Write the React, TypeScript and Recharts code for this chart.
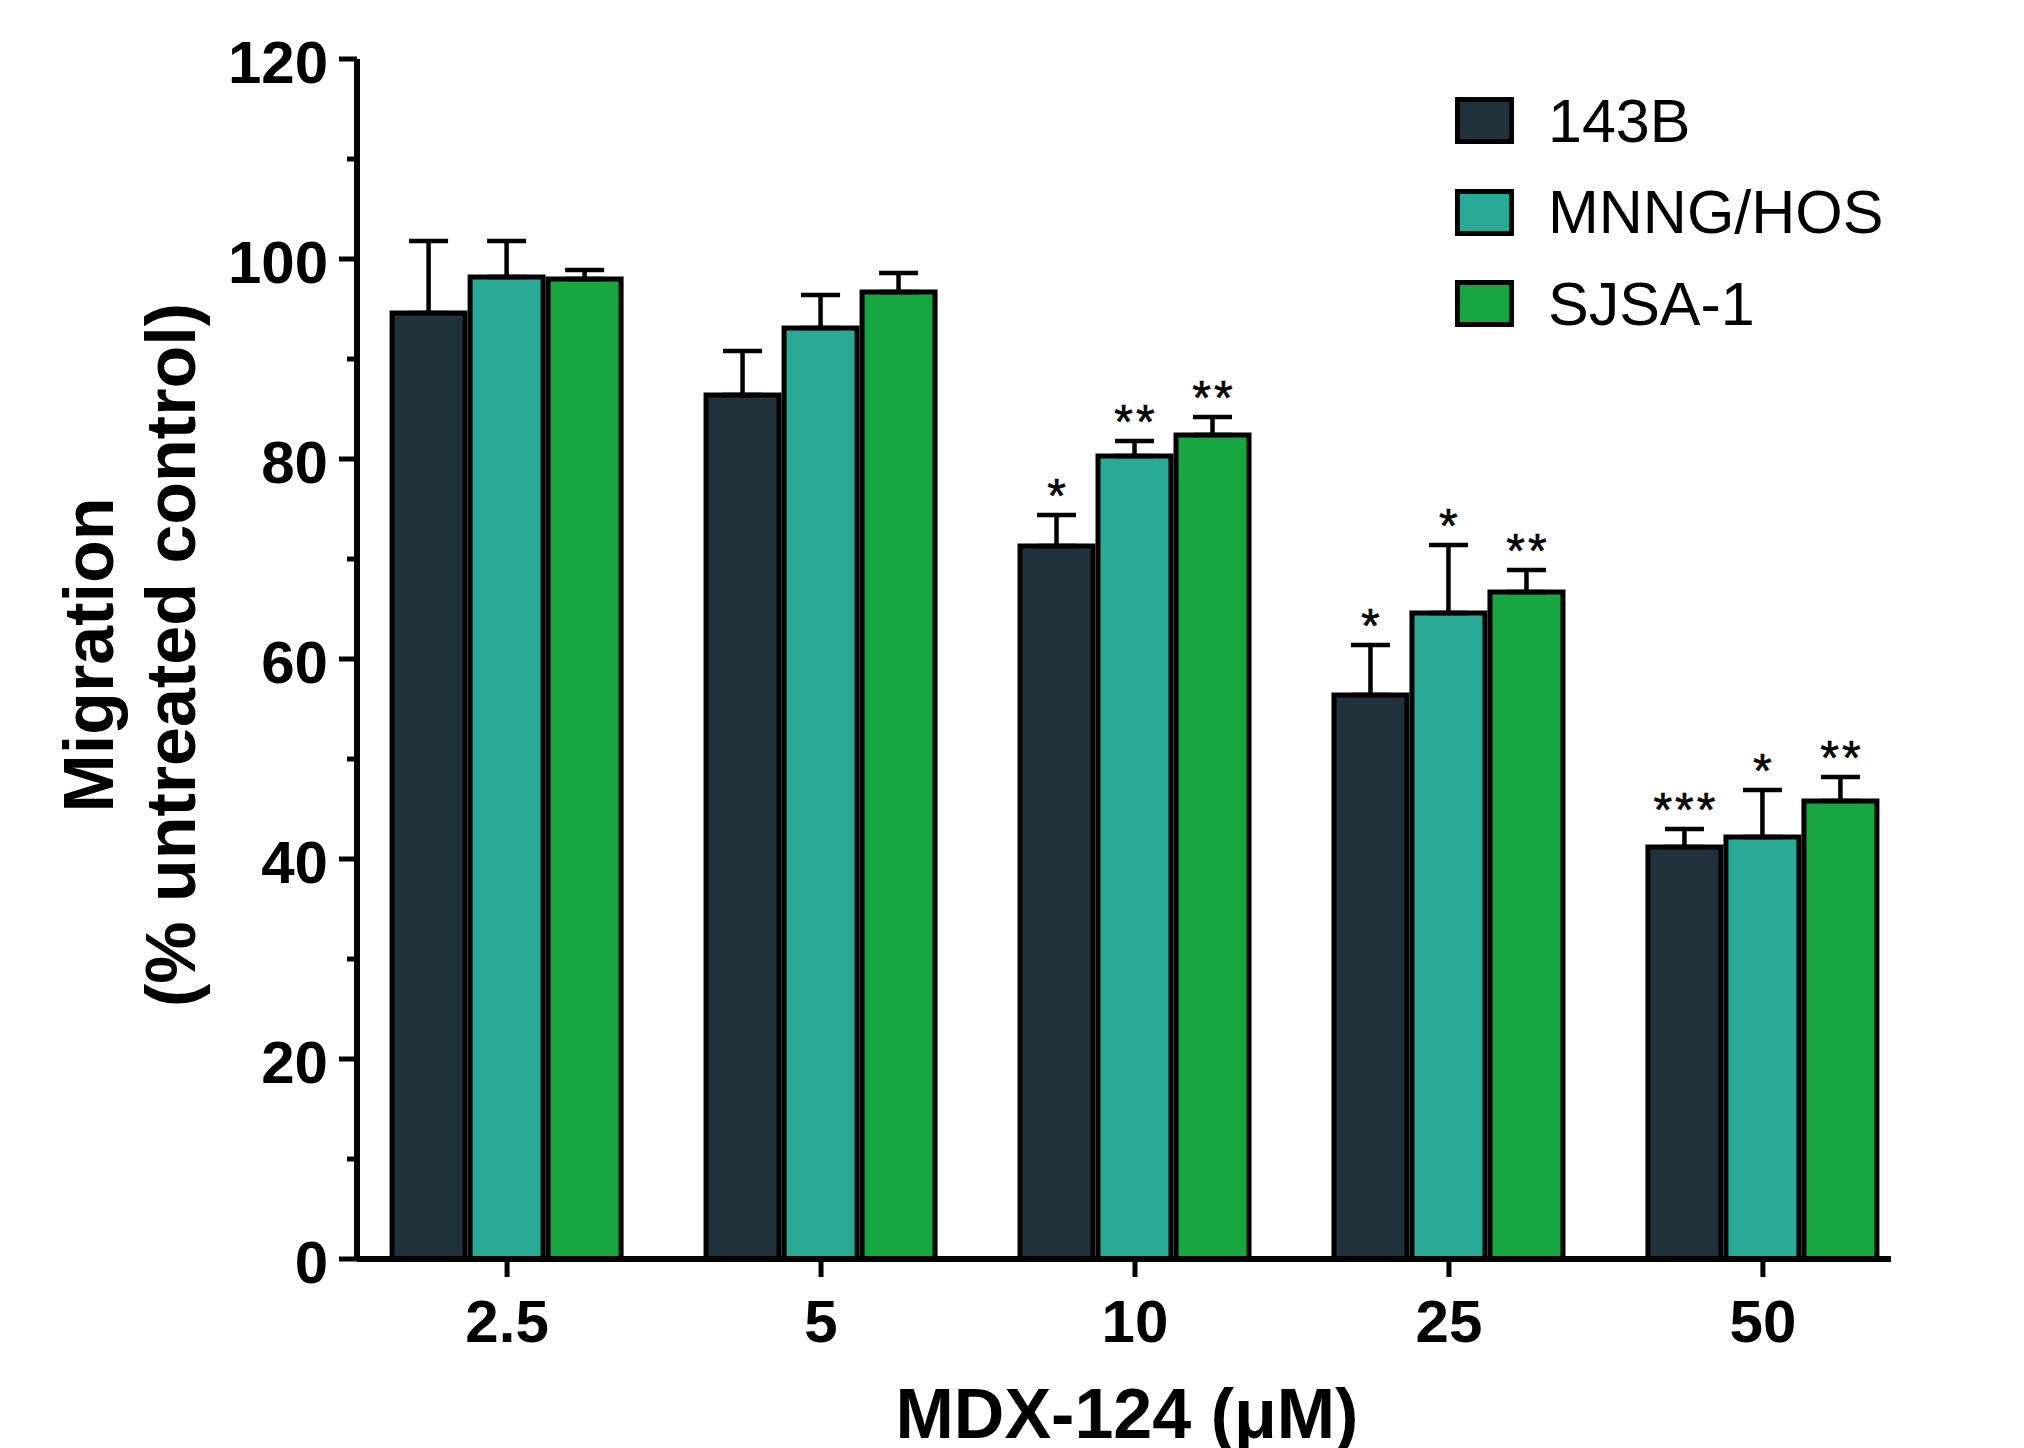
import React from 'react';
import { BarChart, Bar, XAxis, YAxis, ErrorBar, LabelList, Legend } from 'recharts';

const doses = ['2.5', '5', '10', '25', '50'];

const mean143B = [94.6, 86.4, 71.3, 56.4, 41.2];
const sem143B = [7.2, 4.4, 3.1, 5.0, 1.8];
const sig143B = ['', '', '*', '*', '***'];

const meanMNNG = [98.2, 93.1, 80.3, 64.6, 42.2];
const semMNNG = [3.6, 3.3, 1.5, 6.8, 4.7];
const sigMNNG = ['', '', '**', '*', '*'];

const meanSJSA = [98.0, 96.7, 82.4, 66.7, 45.8];
const semSJSA = [0.9, 1.9, 1.8, 2.2, 2.4];
const sigSJSA = ['', '', '**', '**', '**'];

const yTicks = [0, 10, 20, 30, 40, 50, 60, 70, 80, 90, 100, 110, 120];

const FONT = '"Liberation Sans", Arial, sans-serif';

const series = [
  { key: 'b143', name: '143B', color: '#22323C', mean: mean143B, sem: sem143B, sig: sig143B },
  { key: 'mnng', name: 'MNNG/HOS', color: '#2BA997', mean: meanMNNG, sem: semMNNG, sig: sigMNNG },
  { key: 'sjsa', name: 'SJSA-1', color: '#17A640', mean: meanSJSA, sem: semSJSA, sig: sigSJSA },
];

const data = doses.map((dose, i) => {
  const row: any = { idx: i, dose };
  series.forEach((s) => {
    row[s.key] = s.mean[i];
    row[s.key + 'Err'] = [0, s.sem[i]];
    row[s.key + 'Sig'] = s.sig[i];
  });
  return row;
});

const Y_TICK_SIZE = 18;
const Y_TICK_MARGIN = 11;

const YTick = (props: any) => {
  const { x, y, payload } = props;
  const axisX = x + Y_TICK_SIZE + Y_TICK_MARGIN;
  const major = payload.value % 20 === 0;
  return (
    <g>
      <line x1={axisX - (major ? 18 : 10)} x2={axisX} y1={y} y2={y} stroke="#000" strokeWidth={5} />
      {major && (
        <text x={x} y={y + 24} textAnchor="end" fontFamily={FONT} fontWeight="bold" fontSize={60} fill="#000">
          {payload.value}
        </text>
      )}
    </g>
  );
};

const XTick = (props: any) => {
  const { x, y, payload } = props;
  return (
    <text x={x} y={y + 65} textAnchor="middle" fontFamily={FONT} fontWeight="bold" fontSize={60} fill="#000">
      {doses[payload.value]}
    </text>
  );
};

// asterisks sit just above the error bar cap
const starLabel = (meanKey: string, errKey: string) => (props: any) => {
  const { x, y, width, height, value, index } = props;
  if (!value) return null;
  const row = data[index];
  const pxPerUnit = height / row[meanKey];
  const errTop = y - row[errKey][1] * pxPerUnit;
  return (
    <text
      x={x + width / 2 + 1.5}
      y={errTop - 3}
      textAnchor="middle"
      fontFamily={FONT}
      fontSize={48}
      letterSpacing={3}
      fill="#000"
      stroke="#000"
      strokeWidth={0.6}
    >
      {value}
    </text>
  );
};

const LegendBox = (props: any) => {
  const { payload } = props;
  return (
    <div style={{ fontFamily: FONT }}>
      {payload.map((p: any) => (
        <div key={p.value} style={{ display: 'flex', alignItems: 'center', height: 47, marginBottom: 44.5 }}>
          <div style={{ width: 49, height: 37, border: '5px solid #000', background: p.color }} />
          <span style={{ marginLeft: 34, fontSize: 61, lineHeight: '60px', color: '#000' }}>{p.value}</span>
        </div>
      ))}
    </div>
  );
};

export default function App() {
  return (
    <div style={{ position: 'absolute', left: 0, top: 0, width: 2024, height: 1448, background: '#fff' }}>
      <BarChart
        width={2024}
        height={1448}
        data={data}
        margin={{ top: 59, right: 133, bottom: 0, left: 0 }}
        barGap={5}
      >
        <XAxis
          dataKey="idx"
          type="number"
          domain={[-0.478, 4.408]}
          allowDataOverflow
          ticks={[0, 1, 2, 3, 4]}
          interval={0}
          height={189}
          axisLine={{ stroke: '#000', strokeWidth: 6 }}
          tickLine={{ stroke: '#000', strokeWidth: 5 }}
          tickSize={18}
          tickMargin={0}
          tick={<XTick />}
          label={(p: any) => {
            const vb = p.viewBox;
            return (
              <text
                x={vb.x + vb.width / 2 + 3}
                y={vb.y + 179}
                textAnchor="middle"
                fontFamily={FONT}
                fontWeight="bold"
                fontSize={70}
                fill="#000"
              >
                MDX-124 (μM)
              </text>
            );
          }}
        />
        <YAxis
          type="number"
          domain={[0, 120]}
          ticks={yTicks}
          interval={0}
          width={357}
          axisLine={{ stroke: '#000', strokeWidth: 6 }}
          tickLine={false}
          tickSize={Y_TICK_SIZE}
          tickMargin={Y_TICK_MARGIN}
          tick={<YTick />}
          label={(p: any) => {
            const vb = p.viewBox;
            const cy = vb.y + vb.height / 2 - 4;
            return (
              <g fontFamily={FONT} fontWeight="bold" fontSize={70} fill="#000">
                <text x={113} y={cy} textAnchor="middle" transform={`rotate(-90, 113, ${cy})`}>
                  Migration
                </text>
                <text x={195} y={cy} textAnchor="middle" transform={`rotate(-90, 195, ${cy})`}>
                  (% untreated control)
                </text>
              </g>
            );
          }}
        />
        <Legend
          layout="vertical"
          align="center"
          verticalAlign="middle"
          content={<LegendBox />}
          wrapperStyle={{ left: 1455, top: 97, width: 520 }}
        />
        {series.map((s) => (
          <Bar
            key={s.key}
            dataKey={s.key}
            name={s.name}
            fill={s.color}
            stroke="#000"
            strokeWidth={5}
            barSize={73}
            isAnimationActive={false}
          >
            <ErrorBar dataKey={s.key + 'Err'} width={19.5} stroke="#000" strokeWidth={4.5} isAnimationActive={false} />
            <LabelList dataKey={s.key + 'Sig'} content={starLabel(s.key, s.key + 'Err')} />
          </Bar>
        ))}
      </BarChart>
    </div>
  );
}
